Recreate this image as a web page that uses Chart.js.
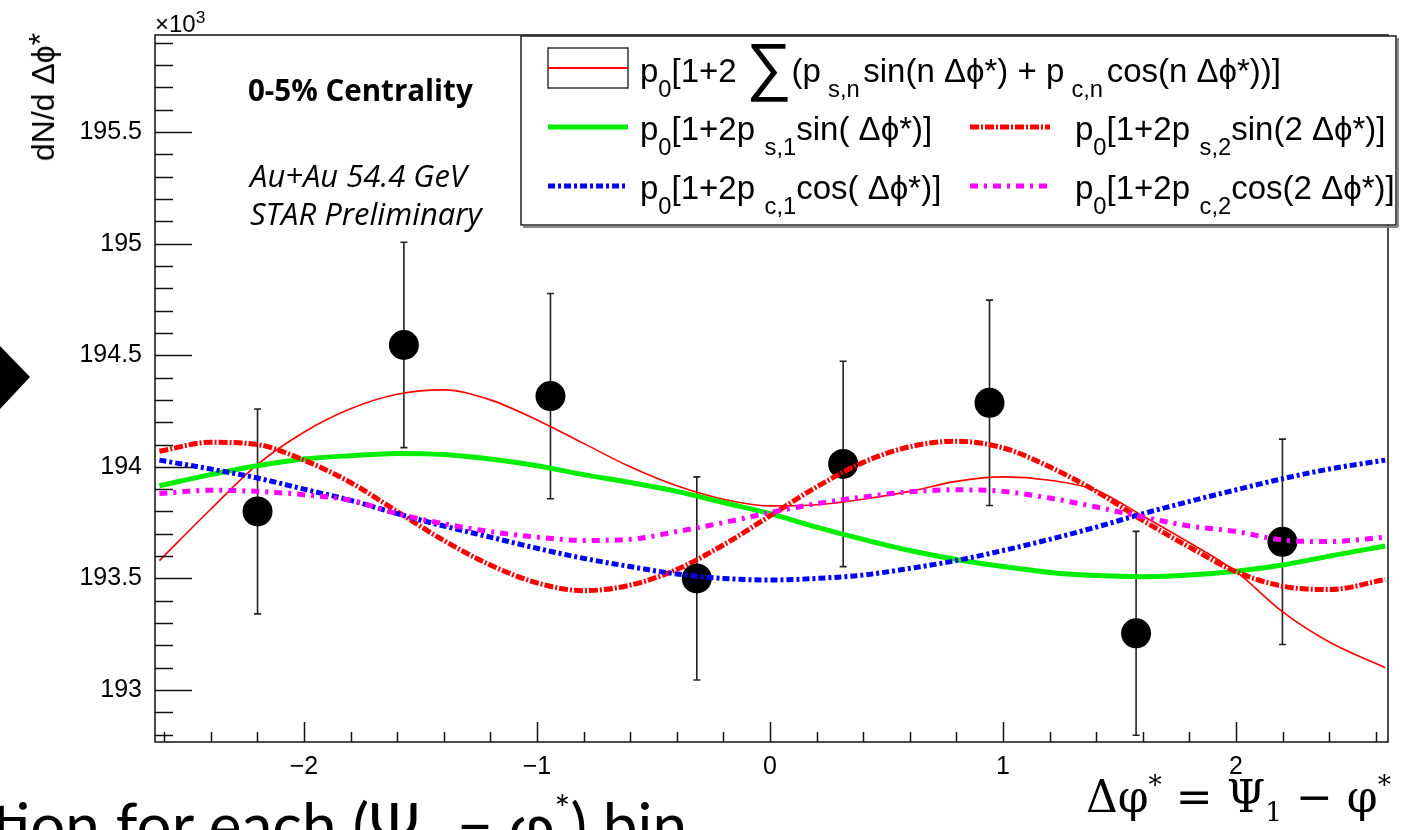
<!DOCTYPE html>
<html><head><meta charset="utf-8">
<script src="https://cdn.jsdelivr.net/npm/chart.js@4.4.0/dist/chart.umd.min.js"></script>
<style>
html,body{margin:0;padding:0;background:#fff;}
#wrap{position:relative;width:1406px;height:830px;overflow:hidden;background:#fff;}
canvas{position:absolute;left:0;top:0;}
.t{position:absolute;white-space:nowrap;color:#000;line-height:1;}
.lg{font-family:"Liberation Sans",Arial,sans-serif;font-size:33px;}
.sb{font-size:0.72em;position:relative;top:0.62em;}
.gap{margin-left:0.4em;}
.gap1{margin-left:0.3em;margin-right:0.15em;}
.sig{font-size:64px;position:relative;top:0.1em;line-height:0;}
.sl{font-family:"Open Sans",sans-serif;}
</style></head>
<body><div id="wrap">
<canvas id="c" width="1406" height="830"></canvas>

<div class="t lg" style="left:640px;top:54px;">p<span class="sb">0</span>[1+2 <span class="sig">∑</span>(p<span class="sb gap1">s,n</span>sin(n Δϕ*) + p<span class="sb gap1">c,n</span>cos(n Δϕ*))]</div>
<div class="t lg" style="left:640px;top:112px;">p<span class="sb">0</span>[1+2p<span class="sb gap">s,1</span>sin( Δϕ*)]</div>
<div class="t lg" style="left:1075px;top:112px;">p<span class="sb">0</span>[1+2p<span class="sb gap">s,2</span>sin(2 Δϕ*)]</div>
<div class="t lg" style="left:640px;top:171px;">p<span class="sb">0</span>[1+2p<span class="sb gap">c,1</span>cos( Δϕ*)]</div>
<div class="t lg" style="left:1075px;top:171px;">p<span class="sb">0</span>[1+2p<span class="sb gap">c,2</span>cos(2 Δϕ*)]</div>

<div class="t sl" style="left:248px;top:75px;font-size:29.5px;font-weight:700;">0-5% Centrality</div>
<div class="t sl" style="left:250px;top:160px;font-size:31px;font-style:italic;">Au+Au 54.4 GeV</div>
<div class="t sl" style="left:250px;top:198px;font-size:31px;font-style:italic;">STAR Preliminary</div>

<div class="t lg" style="left:155px;top:12px;font-size:24px;">×10<span style="font-size:0.72em;position:relative;top:-0.55em;">3</span></div>
<div class="t lg" style="left:43px;top:97px;font-size:32px;transform:translate(-50%,-50%) rotate(-90deg);">dN/d Δϕ<span style="position:relative;top:-0.1em;">*</span></div>

<div class="t" style="left:1086px;top:775px;font-family:'DejaVu Serif','Liberation Serif',serif;font-size:44px;">Δφ<span style="font-size:0.6em;position:relative;top:-0.7em;">*</span> = Ψ<span style="font-size:0.6em;position:relative;top:0.35em;">1</span> − φ<span style="font-size:0.6em;position:relative;top:-0.7em;">*</span></div>
<div class="t" style="left:-8px;top:793px;font-family:'Lato','Open Sans',sans-serif;font-size:62px;">tion for each (Ψ<span style="font-size:0.6em;position:relative;top:0.3em;">1</span> − φ<span style="font-size:0.6em;position:relative;top:-0.7em;">*</span>) bin</div>
<svg style="position:absolute;left:0;top:0;" width="60" height="830"><polygon points="0,346 30,377 0,409" fill="#000"/></svg>
</div>
<script>
// ---- data (values in units of 10^3) ----
const pointX   = [-2.199, -1.571, -0.942, -0.314, 0.314, 0.942, 1.571, 2.199];
const pointY   = [193.800, 194.546, 194.317, 193.500, 194.013, 194.287, 193.254, 193.664];
const pointErr = [0.459, 0.460, 0.460, 0.455, 0.460, 0.460, 0.457, 0.460];

const curveX = [-2.62, -2.4, -2.2, -2.0, -1.8, -1.6, -1.4, -1.2, -1.0, -0.8, -0.6, -0.4, -0.2, 0.0,
                 0.2, 0.4, 0.6, 0.8, 1.0, 1.2, 1.4, 1.6, 1.8, 2.0, 2.2, 2.4, 2.64];
const fitSum  = [193.58, 193.81, 194.01, 194.155, 194.26, 194.325, 194.345, 194.30, 194.21, 194.105, 194.00, 193.915, 193.855, 193.825,
                 193.83, 193.855, 193.89, 193.935, 193.955, 193.94, 193.895, 193.78, 193.66, 193.53, 193.35, 193.215, 193.10];
const fitSin1 = [193.915, 193.965, 194.005, 194.035, 194.05, 194.06, 194.055, 194.035, 194.005, 193.965, 193.93, 193.89, 193.84, 193.79,
                 193.73, 193.675, 193.625, 193.585, 193.553, 193.527, 193.513, 193.508, 193.515, 193.532, 193.56, 193.60, 193.645];
const fitSin2 = [194.07, 194.11, 194.10, 194.03, 193.93, 193.80, 193.67, 193.56, 193.48, 193.445, 193.47, 193.54, 193.65, 193.78,
                 193.91, 194.02, 194.09, 194.115, 194.085, 194.00, 193.89, 193.76, 193.64, 193.53, 193.465, 193.45, 193.495];
const fitCos1 = [194.03, 193.99, 193.95, 193.90, 193.85, 193.79, 193.735, 193.685, 193.635, 193.59, 193.553, 193.52, 193.50, 193.493,
                 193.50, 193.515, 193.545, 193.58, 193.625, 193.675, 193.73, 193.79, 193.845, 193.897, 193.947, 193.99, 194.03];
const fitCos2 = [193.88, 193.895, 193.89, 193.875, 193.85, 193.79, 193.745, 193.71, 193.685, 193.67, 193.675, 193.71, 193.75, 193.795,
                 193.835, 193.865, 193.888, 193.897, 193.89, 193.86, 193.82, 193.775, 193.735, 193.71, 193.672, 193.665, 193.685];

const yTickLabels = [193, 193.5, 194, 194.5, 195, 195.5];
const xTickLabels = [-2, -1, 0, 1, 2];

const X_MIN = -2.639, X_MAX = 2.652, Y_MIN = 192.767, Y_MAX = 195.935;

const STY = {
  sum:  {color:'#ff0000', width:1.6, dash:[]},
  sin1: {color:'#00ee00', width:5,   dash:[]},
  sin2: {color:'#ff0000', width:5,   dash:[9,2,2,2]},
  cos1: {color:'#0000ff', width:5,   dash:[7,3,3,3]},
  cos2: {color:'#ff00ff', width:5,   dash:[8,6,3,6]}
};

function xy(xs, ys){ return xs.map((x,i)=>({x:x, y:ys[i]})); }
function curve(label, ys, s, order){
  return {label, data:xy(curveX, ys), showLine:true, pointRadius:0, pointHoverRadius:0,
    borderColor:s.color, backgroundColor:s.color, borderWidth:s.width, borderDash:s.dash,
    borderCapStyle:'butt', cubicInterpolationMode:'monotone', fill:false, order};
}
const fmt = v => (v<0 ? '\u2212' : '') + String(Math.abs(v));

const errorBars = {
  id:'errorBars',
  beforeDatasetsDraw(chart){
    const {ctx, scales:{x, y}} = chart;
    ctx.save();
    ctx.strokeStyle = '#222'; ctx.lineWidth = 1.6;
    pointX.forEach((px,i)=>{
      const X = x.getPixelForValue(px);
      const t = y.getPixelForValue(pointY[i]+pointErr[i]);
      const b = y.getPixelForValue(pointY[i]-pointErr[i]);
      ctx.beginPath(); ctx.moveTo(X,t); ctx.lineTo(X,b);
      ctx.moveTo(X-3.5,t); ctx.lineTo(X+3.5,t);
      ctx.moveTo(X-3.5,b); ctx.lineTo(X+3.5,b);
      ctx.stroke();
    });
    ctx.restore();
  }
};

const frameTicks = {
  id:'frameTicks',
  afterDraw(chart){
    const {ctx, chartArea:a, scales:{x, y}} = chart;
    ctx.save();
    ctx.strokeStyle = '#111'; ctx.lineWidth = 1.5;
    ctx.strokeRect(a.left, a.top, a.right-a.left, a.bottom-a.top);
    ctx.beginPath();
    for (let k = Math.ceil(Y_MIN*10); k <= Math.floor(Y_MAX*10); k++){
      const Y = Math.round(y.getPixelForValue(k/10)) + 0.5;
      const len = (k % 5 === 0) ? 37 : 18;
      ctx.moveTo(a.left, Y); ctx.lineTo(a.left+len, Y);
    }
    for (let k = -26; k <= 26; k += 2){
      const X = Math.round(x.getPixelForValue(k/10)) + 0.5;
      const len = (k % 10 === 0) ? 20 : 10;
      ctx.moveTo(X, a.bottom); ctx.lineTo(X, a.bottom-len);
    }
    ctx.stroke();

    // legend box
    ctx.fillStyle = '#fff';
    ctx.lineWidth = 1.5; ctx.strokeStyle = '#222';
    ctx.fillRect(521, 36, 875, 189);
    ctx.strokeRect(521, 36, 875, 189);
    ctx.strokeStyle = '#888'; ctx.lineWidth = 2;
    ctx.beginPath(); ctx.moveTo(523, 227); ctx.lineTo(1398, 227); ctx.moveTo(1398,38); ctx.lineTo(1398,227); ctx.stroke();

    // legend samples
    ctx.lineWidth = 1.5; ctx.strokeStyle = '#333';
    ctx.strokeRect(548, 48, 80, 40);
    const sample = (s, x0, x1, yy) => {
      ctx.beginPath(); ctx.setLineDash(s.dash); ctx.lineCap='butt';
      ctx.strokeStyle = s.color; ctx.lineWidth = Math.max(s.width, 2);
      ctx.moveTo(x0, yy); ctx.lineTo(x1, yy); ctx.stroke(); ctx.setLineDash([]);
    };
    sample(STY.sum, 548, 628, 68);
    sample(STY.sin1, 548, 628, 127);
    sample(STY.sin2, 970, 1050, 127);
    sample(STY.cos1, 548, 628, 186);
    sample(STY.cos2, 970, 1050, 186);
    ctx.restore();
  }
};

const tickFont = {family:'"Liberation Sans", Arial, sans-serif', size:25};

new Chart(document.getElementById('c'), {
  type:'scatter',
  data:{datasets:[
    curve('sum', fitSum, STY.sum, 5),
    curve('sin1', fitSin1, STY.sin1, 4),
    curve('sin2', fitSin2, STY.sin2, 3),
    curve('cos1', fitCos1, STY.cos1, 2),
    curve('cos2', fitCos2, STY.cos2, 1),
    {label:'data', data:xy(pointX, pointY), pointRadius:15, pointHoverRadius:15,
     backgroundColor:'#000', borderColor:'#000', borderWidth:0, showLine:false, order:10}
  ]},
  options:{
    responsive:false, animation:false, devicePixelRatio:1,
    layout:{padding:{left:0, right:18, top:35, bottom:0}},
    plugins:{legend:{display:false}, tooltip:{enabled:false}},
    events:[],
    scales:{
      x:{type:'linear', min:X_MIN, max:X_MAX,
         afterBuildTicks:s=>{ s.ticks = xTickLabels.map(v=>({value:v})); },
         afterFit:s=>{ s.height = 88; },
         grid:{display:false, drawTicks:false}, border:{display:false},
         ticks:{padding:10, font:tickFont, color:'#000', maxRotation:0, autoSkip:false, callback:v=>fmt(v)}},
      y:{type:'linear', min:Y_MIN, max:Y_MAX,
         afterBuildTicks:s=>{ s.ticks = yTickLabels.map(v=>({value:v})); },
         afterFit:s=>{ s.width = 155; },
         grid:{display:false, drawTicks:false}, border:{display:false},
         ticks:{padding:13, font:tickFont, color:'#000', autoSkip:false, callback:v=>fmt(v)}}
    }
  },
  plugins:[errorBars, frameTicks]
});
</script>
</body></html>
